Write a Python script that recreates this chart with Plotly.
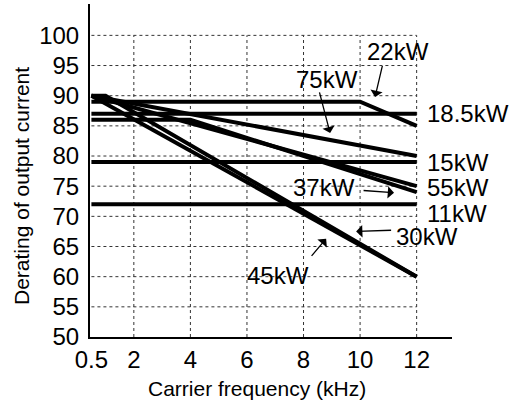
import plotly.graph_objects as go

# ---- data ----
x_11 = [0.5, 12];        y_11 = [72, 72]
x_15 = [0.5, 12];        y_15 = [79, 79]
x_185 = [0.5, 12];       y_185 = [87, 87]
x_22 = [0.5, 10, 12];    y_22 = [89, 89, 85]
x_30 = [0.5, 1, 12];     y_30 = [90, 90, 60]
x_37 = [0.5, 4, 12];     y_37 = [86, 86, 74]
x_45 = [0.5, 12];        y_45 = [90, 60]
x_55 = [0.5, 12];        y_55 = [90, 75]
x_75 = [0.5, 12];        y_75 = [90, 80]

x_ticks = [0.5, 2, 4, 6, 8, 10, 12]
x_tick_labels = ["0.5", "2", "4", "6", "8", "10", "12"]
y_ticks = [50, 55, 60, 65, 70, 75, 80, 85, 90, 95, 100]

series = [
    ("11kW", x_11, y_11), ("15kW", x_15, y_15), ("18.5kW", x_185, y_185),
    ("22kW", x_22, y_22), ("30kW", x_30, y_30), ("37kW", x_37, y_37),
    ("45kW", x_45, y_45), ("55kW", x_55, y_55), ("75kW", x_75, y_75),
]

FONT = "Liberation Sans, Arial, Helvetica, sans-serif"

fig = go.Figure()

# dotted grid box limited to the tick range
gx0, gx1 = x_ticks[0], x_ticks[-1]
gy0, gy1 = y_ticks[0], y_ticks[-1]
for yv in y_ticks[1:]:
    fig.add_shape(type="line", x0=gx0, x1=gx1, y0=yv, y1=yv, xref="x", yref="y",
                  line=dict(color="#333333", width=1, dash="dot"), layer="below")
for xv in x_ticks[1:]:
    fig.add_shape(type="line", x0=xv, x1=xv, y0=gy0, y1=gy1, xref="x", yref="y",
                  line=dict(color="#333333", width=1, dash="dot"), layer="below")

for name, xs, ys in series:
    fig.add_trace(go.Scatter(x=xs, y=ys, mode="lines", name=name,
                             line=dict(color="black", width=4), showlegend=False,
                             hoverinfo="skip"))

# labels (text, x, y, xanchor)
labels = [
    ("22kW", 11.34, 97.4, "center"),
    ("75kW", 8.84, 92.7, "center"),
    ("18.5kW", 12.3, 87.0, "left"),
    ("15kW", 12.3, 78.9, "left"),
    ("55kW", 12.3, 74.7, "left"),
    ("11kW", 12.3, 70.5, "left"),
    ("30kW", 11.2, 66.6, "left"),
    ("37kW", 8.74, 74.8, "center"),
    ("45kW", 7.1, 60.2, "center"),
]
for t, xv, yv, xa in labels:
    fig.add_annotation(x=xv, y=yv, text=t, showarrow=False, xanchor=xa, yanchor="middle",
                       font=dict(family=FONT, size=24, color="black"))

# arrows: (tail_x, tail_y, tip_x, tip_y)
arrows = [
    (10.8, 95.2, 10.53, 89.8),
    (8.55, 90.8, 8.94, 83.8),
    (10.07, 74.3, 11.2, 73.9),
    (11.15, 67.7, 9.86, 67.5),
    (8.24, 63.2, 8.8, 66.3),
]
for tx, ty, hx, hy in arrows:
    fig.add_annotation(x=hx, y=hy, ax=tx, ay=ty, xref="x", yref="y", axref="x", ayref="y",
                       text="", showarrow=True, arrowhead=1, arrowsize=1.6,
                       arrowwidth=1.3, arrowcolor="black")

# axis titles
fig.add_annotation(xref="paper", yref="paper", x=(257 - 90) / 362, y=-(388 - 337) / 333,
                   text="Carrier frequency (kHz)", showarrow=False,
                   xanchor="center", yanchor="middle",
                   font=dict(family=FONT, size=21, color="black"))
fig.add_annotation(xref="paper", yref="paper", x=(21 - 90) / 362, y=(337 - 186) / 333,
                   text="Derating of output current", showarrow=False, textangle=-90,
                   xanchor="center", yanchor="middle",
                   font=dict(family=FONT, size=21, color="black"))

fig.update_layout(
    width=515, height=400,
    margin=dict(l=90, r=63, t=4, b=63, autoexpand=False),
    paper_bgcolor="white", plot_bgcolor="white",
    xaxis=dict(range=[0.45, 13.25], tickmode="array", tickvals=x_ticks, ticktext=x_tick_labels,
               showgrid=False, zeroline=False, showline=True, linecolor="black", linewidth=2,
               ticks="", automargin=False, tickfont=dict(family=FONT, size=24, color="black")),
    yaxis=dict(range=[50, 105.2], tickmode="array", tickvals=y_ticks,
               showgrid=False, zeroline=False, showline=True, linecolor="black", linewidth=2,
               ticks="", automargin=False, ticklabelstandoff=4,
               tickfont=dict(family=FONT, size=24, color="black")),
)

fig.write_html("out.html", config={"displayModeBar": False},
               post_script="document.body.style.margin='0';document.body.style.overflow='hidden';")
